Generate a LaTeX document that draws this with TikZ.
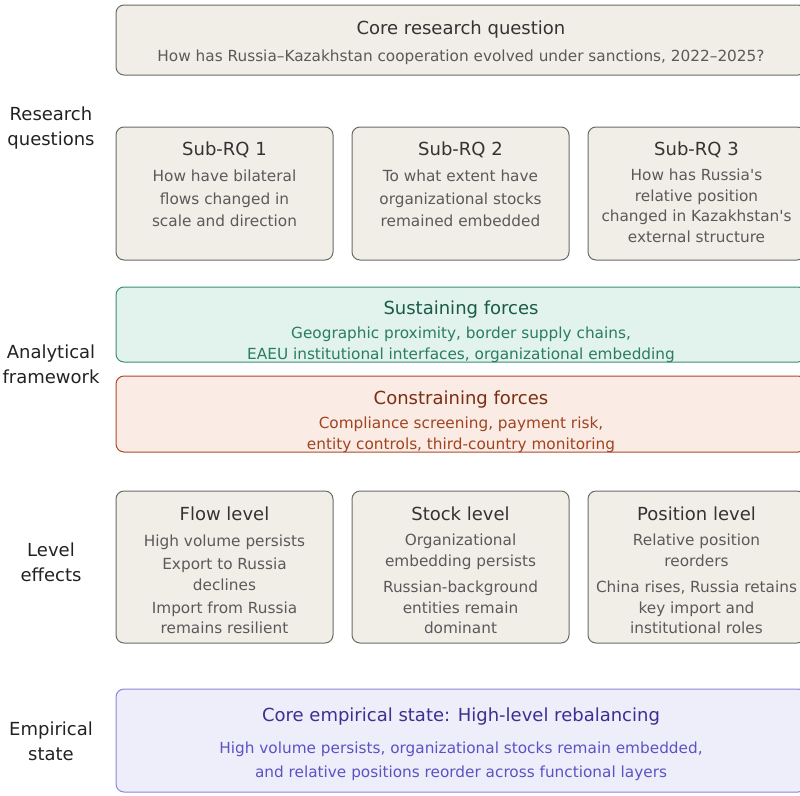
\documentclass[tikz,border=0pt]{standalone}
\usepackage{fontspec}
\setmainfont{DejaVu Sans}
\definecolor{gfill}{HTML}{F1EEE8}
\definecolor{gline}{HTML}{6A6A66}
\definecolor{gtitle}{HTML}{333333}
\definecolor{gbody}{HTML}{5A5A5A}
\definecolor{sfill}{HTML}{E1F3EC}
\definecolor{sline}{HTML}{3A8F72}
\definecolor{stitle}{HTML}{1A5A48}
\definecolor{sbody}{HTML}{2A7D5F}
\definecolor{cfill}{HTML}{FAEBE5}
\definecolor{cline}{HTML}{A9492A}
\definecolor{ctitle}{HTML}{7A2E12}
\definecolor{cbody}{HTML}{A0441F}
\definecolor{efill}{HTML}{EEEEFB}
\definecolor{eline}{HTML}{8A85D9}
\definecolor{etitle}{HTML}{3B308F}
\definecolor{ebody}{HTML}{5C52C4}
\definecolor{lbl}{HTML}{222222}
\begin{document}
\begin{tikzpicture}[x=1pt,y=-1pt,
  panel/.style={rectangle, rounded corners=8pt, line width=1pt, inner sep=0pt},
  greybox/.style={panel, draw=gline, fill=gfill},
  sustbox/.style={panel, draw=sline, fill=sfill},
  consbox/.style={panel, draw=cline, fill=cfill},
  empbox/.style={panel, draw=eline, fill=efill},
  ttl/.style={inner sep=0pt, font=\fontsize{18}{21}\selectfont},
  bdy/.style={inner sep=0pt, align=center, font=\fontsize{15.3}{20.5}\selectfont},
  sidelabel/.style={inner sep=0pt, align=center, text=lbl, font=\fontsize{18}{25.5}\selectfont}]
\useasboundingbox (0,0) rectangle (800,795);

% core question
\node[greybox, minimum width=690pt, minimum height=70pt] (core) at (461,40) {};
\node[ttl, text=gtitle] (coreT) at (461,30) {Core research question};
\node[bdy, text=gbody] (coreB) at (461,57) {How has Russia–Kazakhstan cooperation evolved under sanctions, 2022–2025?};

% sub-questions
\node[greybox, minimum width=217pt, minimum height=133pt] (rq1) at (224.5,193.5) {};
\node[greybox, minimum width=217pt, minimum height=133pt] (rq2) at (460.5,193.5) {};
\node[greybox, minimum width=217pt, minimum height=133pt] (rq3) at (696.5,193.5) {};
\node[ttl, text=gtitle] (rq1T) at (224.5,149.5) {Sub-RQ 1};
\node[ttl, text=gtitle] (rq2T) at (460.5,149.5) {Sub-RQ 2};
\node[ttl, text=gtitle] (rq3T) at (696.5,149.5) {Sub-RQ 3};
\node[bdy, text=gbody, font=\fontsize{15.3}{22.5}\selectfont] (rq1B) at (224.5,198.5)
  {How have bilateral\\flows changed in\\scale and direction};
\node[bdy, text=gbody, font=\fontsize{15.3}{22.5}\selectfont] (rq2B) at (460.5,198.5)
  {To what extent have\\organizational stocks\\remained embedded};
\node[bdy, text=gbody] (rq3B) at (696.5,206)
  {How has Russia\textquotesingle s\\relative position\\changed in Kazakhstan\textquotesingle s\\external structure};

% forces
\node[sustbox, minimum width=690pt, minimum height=75pt] (sust) at (461,324.5) {};
\node[ttl, text=stitle] (sustT) at (461,310) {Sustaining forces};
\node[bdy, text=sbody] (sustB) at (461,345)
  {Geographic proximity, border supply chains,\\EAEU institutional interfaces, organizational embedding};
\node[consbox, minimum width=690pt, minimum height=76pt] (cons) at (461,414) {};
\node[ttl, text=ctitle] (consT) at (461,400) {Constraining forces};
\node[bdy, text=cbody] (consB) at (461,435)
  {Compliance screening, payment risk,\\entity controls, third-country monitoring};

% level effects
\node[greybox, minimum width=217pt, minimum height=152pt] (flow) at (224.5,567) {};
\node[greybox, minimum width=217pt, minimum height=152pt] (stock) at (460.5,567) {};
\node[greybox, minimum width=217pt, minimum height=152pt] (pos) at (696.5,567) {};
\node[ttl, text=gtitle] (flowT) at (224.5,514) {Flow level};
\node[ttl, text=gtitle] (stockT) at (460.5,514) {Stock level};
\node[ttl, text=gtitle] (posT) at (696.5,514) {Position level};
\node[bdy, text=gbody] (flowB) at (224.5,584.5)
  {High volume persists\\[2.5pt]Export to Russia\\declines\\[2.5pt]Import from Russia\\remains resilient};
\node[bdy, text=gbody] (stockB) at (460.5,584)
  {Organizational\\embedding persists\\[6pt]Russian-background\\entities remain\\dominant};
\node[bdy, text=gbody] (posB) at (696.5,584)
  {Relative position\\reorders\\[6pt]China rises, Russia retains\\key import and\\institutional roles};

% empirical state
\node[empbox, minimum width=690pt, minimum height=103pt] (emp) at (461,740.5) {};
\node[ttl, text=etitle] (empT) at (461,717) {Core empirical state: High-level rebalancing};
\node[bdy, text=ebody, font=\fontsize{15.3}{24}\selectfont] (empB) at (461,761)
  {High volume persists, organizational stocks remain embedded,\\and relative positions reorder across functional layers};

% row labels
\node[sidelabel] (labRQ) at (51,128) {Research\\questions};
\node[sidelabel] (labAF) at (51,364.5) {Analytical\\framework};
\node[sidelabel] (labLE) at (51,562.5) {Level\\effects};
\node[sidelabel] (labES) at (51,741.5) {Empirical\\state};
\end{tikzpicture}
\end{document}
